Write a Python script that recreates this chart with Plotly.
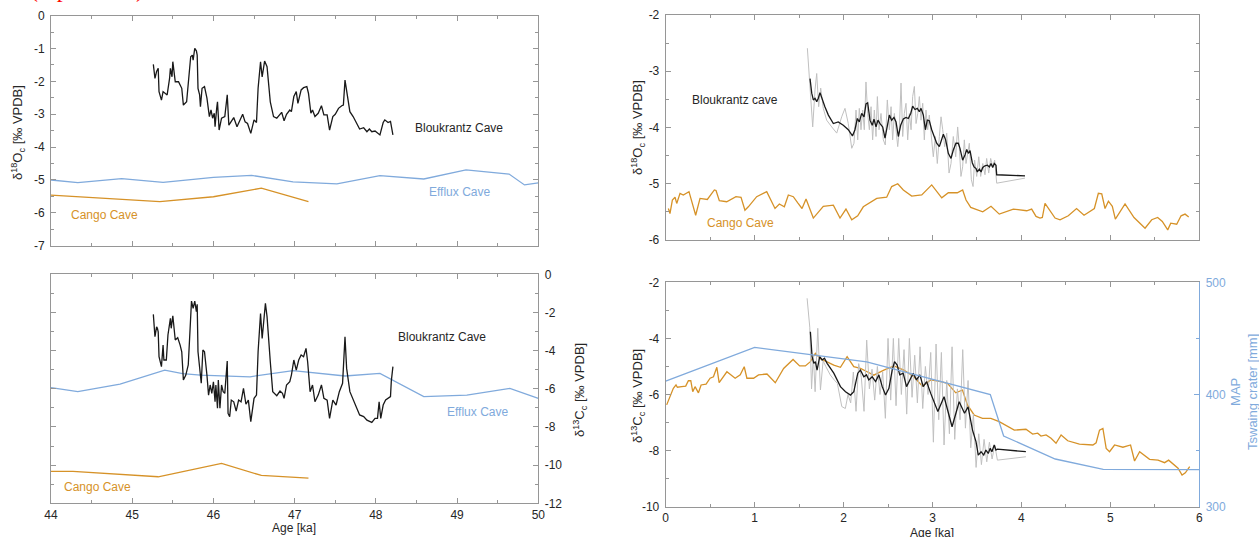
import plotly.graph_objects as go

# ---------------- data ----------------
# Top-left: Bloukrantz d18O (44-50 ka)
tl_blk_x = [45.26,45.28,45.30,45.32,45.33,45.36,45.38,45.43,45.46,45.47,45.49,45.50,45.53,45.57,45.61,45.63,45.67,45.70,45.72,45.74,45.75,45.77,45.79,45.80,45.81,45.83,45.84,45.86,45.89,45.92,45.95,45.97,45.99,46.01,46.02,46.04,46.05,46.07,46.10,46.14,46.17,46.19,46.23,46.25,46.29,46.33,46.36,46.39,46.42,46.46,46.50,46.53,46.55,46.58,46.60,46.63,46.66,46.70,46.74,46.78,46.81,46.84,46.87,46.90,46.94,46.96,46.99,47.02,47.04,47.08,47.11,47.15,47.17,47.20,47.22,47.25,47.29,47.33,47.36,47.40,47.43,47.47,47.50,47.54,47.58,47.60,47.62,47.64,47.68,47.72,47.76,47.80,47.85,47.89,47.92,47.95,47.99,48.02,48.05,48.09,48.11,48.15,48.18,48.21]
tl_blk_y = [-1.48,-1.91,-1.70,-1.60,-2.31,-2.57,-2.31,-2.41,-1.91,-1.60,-1.86,-1.40,-2.01,-2.01,-2.21,-2.72,-2.62,-1.91,-1.25,-1.20,-1.35,-0.99,-1.07,-1.20,-2.21,-2.41,-2.77,-2.21,-2.16,-2.51,-3.07,-2.87,-3.12,-2.97,-3.38,-2.82,-2.62,-3.48,-3.12,-3.07,-2.41,-3.33,-3.17,-3.10,-3.38,-3.17,-3.00,-3.23,-3.28,-3.58,-3.17,-3.25,-2.21,-1.40,-1.86,-1.38,-1.55,-2.62,-3.07,-3.12,-3.02,-2.94,-3.20,-3.00,-2.87,-2.92,-2.46,-2.31,-2.67,-2.26,-2.19,-2.16,-2.36,-2.97,-2.87,-3.07,-2.97,-2.74,-3.02,-3.02,-3.48,-3.07,-3.00,-2.82,-2.74,-2.72,-1.96,-2.31,-2.92,-3.07,-3.28,-3.45,-3.41,-3.53,-3.45,-3.53,-3.51,-3.58,-3.63,-3.25,-3.17,-3.25,-3.22,-3.63]
tl_eff_x = [44.0,44.33,44.87,45.38,46.0,46.47,46.98,47.52,48.05,48.59,49.11,49.64,49.83,50.0]
tl_eff_y = [-5.00,-5.08,-4.96,-5.07,-4.92,-4.86,-5.06,-5.12,-4.87,-4.97,-4.69,-4.82,-5.15,-5.09]
tl_cango_x = [44.0,44.44,45.34,46.0,46.59,47.17]
tl_cango_y = [-5.46,-5.53,-5.66,-5.51,-5.25,-5.66]

# Bottom-left: Bloukrantz d13C (44-50 ka)
bl_blk_x = [45.26,45.28,45.30,45.31,45.32,45.33,45.36,45.38,45.39,45.42,45.44,45.47,45.48,45.50,45.53,45.56,45.59,45.61,45.63,45.66,45.69,45.71,45.73,45.75,45.77,45.79,45.80,45.81,45.83,45.85,45.87,45.89,45.92,45.94,45.96,45.98,46.00,46.02,46.03,46.05,46.06,46.08,46.10,46.12,46.14,46.17,46.18,46.20,46.22,46.25,46.28,46.31,46.34,46.37,46.40,46.43,46.46,46.50,46.53,46.55,46.58,46.60,46.64,46.66,46.70,46.73,46.78,46.82,46.85,46.87,46.90,46.94,46.96,46.99,47.02,47.05,47.08,47.11,47.14,47.16,47.19,47.22,47.25,47.29,47.33,47.36,47.40,47.43,47.47,47.51,47.55,47.59,47.62,47.64,47.68,47.72,47.76,47.80,47.85,47.89,47.95,47.99,48.02,48.04,48.06,48.09,48.12,48.15,48.18,48.19,48.21]
bl_blk_y = [-2.10,-3.27,-2.75,-2.83,-3.01,-4.32,-4.84,-3.71,-4.49,-4.49,-3.18,-2.31,-2.83,-2.17,-3.44,-3.32,-3.71,-4.06,-5.54,-5.28,-4.75,-2.83,-1.40,-1.78,-1.40,-1.96,-1.57,-4.06,-4.75,-5.71,-3.97,-4.06,-5.28,-6.33,-5.80,-6.24,-5.63,-6.68,-5.80,-7.02,-5.54,-7.02,-5.80,-6.15,-6.24,-4.54,-7.29,-7.46,-6.59,-6.68,-7.17,-6.59,-6.68,-5.98,-6.81,-6.59,-7.72,-6.50,-6.33,-4.06,-2.05,-3.36,-1.52,-2.22,-4.58,-6.15,-6.36,-6.12,-6.24,-6.50,-5.80,-5.63,-5.28,-4.49,-5.02,-4.49,-4.23,-4.32,-3.88,-4.58,-6.15,-5.80,-6.68,-6.33,-5.80,-6.50,-6.59,-7.55,-6.59,-6.85,-6.15,-5.71,-3.27,-4.93,-6.15,-6.59,-7.02,-7.37,-7.46,-7.64,-7.76,-7.55,-7.55,-6.68,-7.55,-6.85,-6.59,-6.50,-6.41,-5.60,-4.84]
bl_eff_x = [44.0,44.33,44.85,45.40,45.62,45.84,46.45,46.98,47.62,48.05,48.59,49.12,49.65,50.0]
bl_eff_y = [-5.94,-6.15,-5.75,-5.02,-5.20,-5.28,-5.37,-5.05,-5.33,-5.19,-6.41,-6.33,-5.98,-6.50]
bl_cango_x = [44.0,44.27,45.32,46.10,46.59,47.17]
bl_cango_y = [-10.33,-10.33,-10.61,-9.91,-10.54,-10.68]

# Top-right: Bloukrantz d18O (0-6 ka), smoothed and raw
tr_blk_x = [1.623,1.642,1.660,1.679,1.698,1.716,1.735,1.754,1.790,1.829,1.885,1.940,1.997,2.053,2.100,2.128,2.155,2.177,2.204,2.230,2.252,2.271,2.297,2.323,2.342,2.365,2.387,2.410,2.440,2.466,2.492,2.515,2.541,2.567,2.590,2.616,2.642,2.672,2.702,2.728,2.755,2.777,2.803,2.829,2.852,2.871,2.897,2.920,2.942,2.964,2.991,3.017,3.047,3.077,3.104,3.122,3.148,3.178,3.208,3.234,3.264,3.290,3.309,3.339,3.365,3.385,3.403,3.422,3.448,3.467,3.490,3.504,3.527,3.546,3.565,3.590,3.617,3.640,3.658,3.677,3.695,3.714,3.722,4.040]
tr_blk_y = [-3.13,-3.39,-3.51,-3.48,-3.54,-3.48,-3.38,-3.48,-3.63,-3.78,-3.93,-3.90,-3.96,-4.04,-4.15,-4.04,-3.84,-3.90,-3.75,-3.81,-3.58,-3.56,-3.87,-3.96,-3.85,-3.99,-3.87,-3.93,-3.99,-4.19,-3.99,-3.78,-3.87,-3.82,-3.90,-4.16,-3.96,-3.85,-3.82,-3.84,-3.75,-3.62,-3.68,-3.66,-3.72,-3.66,-3.78,-4.04,-3.87,-3.88,-4.04,-4.16,-4.28,-4.34,-4.22,-4.12,-4.22,-4.46,-4.55,-4.40,-4.28,-4.28,-4.37,-4.58,-4.49,-4.39,-4.46,-4.41,-4.63,-4.70,-4.73,-4.79,-4.74,-4.79,-4.71,-4.68,-4.67,-4.70,-4.64,-4.71,-4.64,-4.67,-4.84,-4.86]
tr_raw_x = [1.593,1.615,1.634,1.653,1.679,1.698,1.720,1.743,1.772,1.810,1.867,1.923,1.979,2.016,2.053,2.092,2.117,2.140,2.159,2.177,2.196,2.215,2.233,2.252,2.271,2.290,2.309,2.327,2.346,2.365,2.380,2.399,2.421,2.447,2.469,2.492,2.515,2.534,2.552,2.571,2.590,2.609,2.627,2.646,2.665,2.683,2.702,2.721,2.740,2.759,2.777,2.796,2.815,2.834,2.852,2.871,2.890,2.908,2.927,2.946,2.964,2.983,3.009,3.032,3.054,3.077,3.096,3.115,3.137,3.160,3.186,3.208,3.234,3.261,3.283,3.301,3.320,3.339,3.358,3.377,3.396,3.414,3.437,3.456,3.474,3.497,3.520,3.542,3.565,3.590,3.609,3.632,3.654,3.677,3.699,3.722,4.040]
tr_raw_y = [-2.59,-3.16,-3.69,-3.99,-3.33,-3.04,-3.63,-3.30,-3.66,-3.87,-3.99,-4.10,-3.81,-3.66,-3.93,-4.37,-4.28,-3.69,-4.22,-3.66,-4.04,-3.69,-4.04,-3.19,-3.75,-4.04,-3.63,-4.22,-3.69,-4.16,-3.45,-4.04,-3.75,-4.22,-4.31,-3.51,-4.04,-3.63,-4.22,-3.75,-4.04,-4.34,-4.04,-3.21,-4.16,-3.75,-3.57,-4.22,-3.75,-4.04,-3.45,-3.27,-3.93,-3.75,-3.45,-3.87,-3.57,-4.22,-3.69,-4.04,-3.78,-4.16,-4.52,-4.16,-4.64,-4.16,-3.81,-4.04,-4.34,-4.10,-4.81,-4.64,-4.16,-4.52,-3.99,-4.34,-4.87,-4.70,-4.22,-4.64,-4.46,-4.28,-4.93,-5.05,-4.58,-4.87,-4.52,-4.87,-4.64,-4.84,-4.55,-4.81,-4.55,-4.70,-4.58,-4.99,-4.90]
tr_cango_x = [0.03,0.048,0.075,0.105,0.124,0.161,0.198,0.262,0.337,0.386,0.468,0.547,0.566,0.603,0.686,0.79,0.847,0.891,0.929,1.023,1.136,1.229,1.278,1.334,1.379,1.435,1.485,1.533,1.578,1.66,1.772,1.885,1.96,2.027,2.092,2.159,2.222,2.297,2.373,2.485,2.541,2.609,2.672,2.766,2.879,2.991,3.104,3.178,3.279,3.339,3.377,3.43,3.565,3.658,3.751,3.909,4.059,4.115,4.164,4.209,4.235,4.265,4.378,4.434,4.527,4.62,4.704,4.82,4.865,4.903,4.94,4.978,5.022,5.056,5.165,5.266,5.39,5.465,5.532,5.584,5.645,5.679,5.746,5.795,5.84,5.881]
tr_cango_y = [-5.44,-5.53,-5.29,-5.24,-5.35,-5.17,-5.20,-5.14,-5.56,-5.26,-5.28,-5.11,-5.12,-5.30,-5.32,-5.23,-5.24,-5.47,-5.41,-5.23,-5.14,-5.44,-5.36,-5.41,-5.20,-5.23,-5.34,-5.44,-5.27,-5.61,-5.40,-5.38,-5.61,-5.45,-5.64,-5.57,-5.41,-5.34,-5.26,-5.24,-5.05,-5.00,-5.11,-5.22,-5.20,-5.02,-5.25,-5.16,-5.16,-5.11,-5.29,-5.42,-5.50,-5.40,-5.54,-5.45,-5.48,-5.45,-5.58,-5.61,-5.60,-5.35,-5.61,-5.64,-5.57,-5.44,-5.56,-5.44,-5.17,-5.18,-5.44,-5.31,-5.40,-5.63,-5.36,-5.60,-5.79,-5.64,-5.60,-5.67,-5.82,-5.70,-5.72,-5.57,-5.54,-5.59]

# Bottom-right: Bloukrantz d13C (0-6 ka), smoothed and raw
br_blk_x = [1.627,1.646,1.665,1.683,1.702,1.732,1.759,1.785,1.815,1.890,1.965,2.022,2.078,2.115,2.160,2.190,2.228,2.258,2.284,2.322,2.360,2.397,2.435,2.472,2.510,2.547,2.573,2.603,2.632,2.670,2.708,2.745,2.783,2.820,2.858,2.896,2.934,2.980,3.020,3.060,3.130,3.220,3.300,3.360,3.400,3.450,3.489,3.515,3.546,3.576,3.600,3.627,3.649,3.668,3.694,3.713,3.730,4.050]
br_blk_y = [-3.76,-4.65,-4.89,-4.83,-5.13,-4.65,-4.77,-4.71,-4.89,-5.24,-5.72,-5.90,-6.02,-5.90,-5.24,-5.13,-5.37,-5.30,-5.48,-5.37,-5.54,-5.30,-5.72,-6.02,-5.78,-5.13,-4.83,-4.95,-5.30,-5.24,-5.72,-5.48,-5.24,-5.48,-5.30,-5.72,-5.54,-5.96,-6.31,-6.61,-6.08,-7.15,-6.26,-6.67,-6.44,-7.27,-7.68,-8.16,-8.04,-8.16,-7.98,-8.10,-7.92,-8.04,-7.80,-7.98,-7.95,-8.04]
br_raw_x = [1.59,1.62,1.64,1.66,1.68,1.71,1.74,1.77,1.80,1.85,1.90,1.93,1.98,2.02,2.05,2.08,2.11,2.14,2.17,2.20,2.23,2.26,2.29,2.32,2.35,2.38,2.41,2.44,2.47,2.50,2.53,2.56,2.59,2.62,2.65,2.68,2.71,2.74,2.77,2.80,2.83,2.86,2.89,2.92,2.95,2.98,3.01,3.04,3.07,3.10,3.13,3.16,3.19,3.22,3.25,3.28,3.31,3.34,3.37,3.40,3.43,3.46,3.49,3.52,3.55,3.58,3.61,3.64,3.67,3.70,3.73,4.05]
br_raw_y = [-2.57,-3.60,-5.80,-4.60,-5.90,-3.64,-5.84,-4.80,-5.00,-5.30,-5.50,-5.60,-6.43,-6.50,-6.00,-6.30,-5.20,-6.60,-4.90,-5.40,-6.60,-4.06,-5.80,-5.10,-6.20,-5.00,-6.00,-5.20,-6.85,-4.00,-6.20,-4.00,-6.40,-4.00,-6.00,-4.40,-6.70,-4.00,-6.10,-4.60,-6.30,-4.30,-6.50,-5.00,-6.00,-4.50,-7.70,-4.20,-6.90,-4.50,-7.80,-5.50,-7.40,-4.30,-7.60,-5.80,-6.90,-4.40,-7.20,-5.50,-7.90,-6.70,-8.60,-7.40,-8.50,-7.60,-8.40,-7.70,-8.30,-7.80,-8.34,-8.22]
br_cango_x = [0.011,0.048,0.086,0.116,0.131,0.18,0.225,0.255,0.282,0.304,0.33,0.368,0.398,0.454,0.499,0.537,0.575,0.601,0.688,0.781,0.838,0.883,0.913,0.988,1.044,1.139,1.232,1.326,1.432,1.506,1.570,1.627,1.683,1.74,1.815,1.89,1.965,2.04,2.115,2.19,2.265,2.34,2.453,2.566,2.679,2.791,2.886,2.98,3.093,3.168,3.262,3.337,3.393,3.468,3.562,3.656,3.75,3.844,3.92,4.051,4.126,4.183,4.22,4.277,4.333,4.389,4.446,4.521,4.652,4.803,4.84,4.878,4.916,4.953,4.991,5.047,5.141,5.227,5.272,5.329,5.441,5.536,5.61,5.655,5.761,5.806,5.843,5.892]
br_cango_y = [-6.37,-6.08,-5.78,-5.66,-5.74,-5.72,-5.70,-5.51,-5.51,-5.90,-5.72,-5.94,-5.66,-5.63,-5.42,-5.37,-5.03,-5.58,-5.19,-5.42,-5.30,-5.01,-5.42,-5.42,-5.30,-5.27,-5.58,-5.07,-4.75,-4.98,-4.98,-4.83,-4.53,-4.72,-4.83,-4.95,-5.03,-4.65,-5.01,-5.07,-5.19,-5.31,-5.13,-4.98,-5.13,-5.37,-5.70,-5.48,-5.54,-5.60,-5.94,-5.84,-6.37,-6.73,-6.85,-6.85,-6.97,-7.15,-7.27,-7.24,-7.41,-7.38,-7.48,-7.44,-7.56,-7.74,-7.44,-7.65,-7.77,-7.80,-7.72,-7.27,-7.21,-7.92,-8.04,-7.80,-7.88,-7.80,-8.37,-8.04,-8.31,-8.34,-8.43,-8.34,-8.63,-8.87,-8.79,-8.57]
br_map_x = [0.0,1.0,2.26,2.97,3.65,3.80,4.38,4.92,6.0]
br_map_y = [412,442,429,414,400,363,342.5,333.3,333]

# tick labels
tl_yticks = [0,-1,-2,-3,-4,-5,-6,-7]
bl_yticks = [0,-2,-4,-6,-8,-10,-12]
tr_yticks = [-2,-3,-4,-5,-6]
br_yticks = [-2,-4,-6,-8,-10]
br_map_ticks = [300,400,500]
left_xticks = [44,45,46,47,48,49,50]
right_xticks = [0,1,2,3,4,5,6]

# ---------------- styling ----------------
BLACK = "rgb(25,25,25)"
GRAY = "rgb(192,192,192)"
ORANGE = "rgb(214,146,40)"
BLUE = "rgb(128,170,220)"
FRAME = "rgb(150,150,150)"
TXT = "rgb(38,38,38)"
FONT = "Liberation Sans, Arial, Helvetica, sans-serif"
W, H = 1259, 537

def xd(a, b):
    return [a / W, b / W]

def yd(top, bot):
    return [1 - bot / H, 1 - top / H]

def lab(v):
    return [str(t) for t in v]

fig = go.Figure()

def line(x, y, color, xa, ya, width=1.3):
    fig.add_trace(go.Scatter(x=x, y=y, mode="lines", line=dict(color=color, width=width),
                             xaxis=xa, yaxis=ya, showlegend=False, hoverinfo="skip"))

# TL
line(tl_eff_x, tl_eff_y, BLUE, "x", "y")
line(tl_cango_x, tl_cango_y, ORANGE, "x", "y")
line(tl_blk_x, tl_blk_y, BLACK, "x", "y")
# TR
line(tr_cango_x, tr_cango_y, ORANGE, "x2", "y2")
line(tr_raw_x, tr_raw_y, GRAY, "x2", "y2", 1.0)
line(tr_blk_x, tr_blk_y, BLACK, "x2", "y2")
# BL
line(bl_eff_x, bl_eff_y, BLUE, "x3", "y3")
line(bl_cango_x, bl_cango_y, ORANGE, "x3", "y3")
line(bl_blk_x, bl_blk_y, BLACK, "x3", "y3")
# BR
line(br_map_x, br_map_y, BLUE, "x4", "y5")
line(br_cango_x, br_cango_y, ORANGE, "x4", "y4")
line(br_raw_x, br_raw_y, GRAY, "x4", "y4", 1.0)
line(br_blk_x, br_blk_y, BLACK, "x4", "y4")

tickfont = dict(family=FONT, size=12, color=TXT)

def xaxis(dom, anchor, rng, vals, labels):
    return dict(domain=dom, anchor=anchor, range=rng, tickmode="array", tickvals=vals,
                ticktext=lab(vals), showticklabels=labels, ticks="inside", ticklen=5,
                tickcolor=FRAME, tickwidth=1, showline=True, linecolor=FRAME, linewidth=1,
                mirror="ticks", showgrid=False, zeroline=False, tickfont=tickfont, automargin=False,
                minor=dict(ticks="inside", dtick=0.5, tick0=0, ticklen=3, tickcolor=FRAME, showgrid=False))

def yaxis(dom, anchor, rng, vals, mdt, side="left", mirror="ticks", color=FRAME, fcolor=TXT):
    return dict(domain=dom, anchor=anchor, range=rng, tickmode="array", tickvals=vals,
                ticktext=lab(vals), side=side, ticks="inside", ticklen=5, tickcolor=color,
                tickwidth=1, showline=True, linecolor=color, linewidth=1, mirror=mirror,
                showgrid=False, zeroline=False, ticklabelstandoff=3, automargin=False,
                tickfont=dict(family=FONT, size=12, color=fcolor),
                minor=dict(ticks="inside", dtick=mdt, tick0=0, ticklen=3, tickcolor=color, showgrid=False))

LX = xd(51, 538.3)
RX = xd(665.7, 1199.3)

fig.update_layout(
    width=W, height=H, margin=dict(l=0, r=0, t=0, b=0, autoexpand=False),
    paper_bgcolor="white", plot_bgcolor="white", showlegend=False,
    xaxis=xaxis(LX, "y", [44, 50], left_xticks, False),
    yaxis=yaxis(yd(15.7, 245.7), "x", [-7, 0], tl_yticks, 0.5),
    xaxis2=xaxis(RX, "y2", [0, 6], right_xticks, False),
    yaxis2=yaxis(yd(15, 240), "x2", [-6, -2], tr_yticks, 0.5),
    xaxis3=xaxis(LX, "y3", [44, 50], left_xticks, True),
    yaxis3=yaxis(yd(274.3, 503.3), "x3", [-12, 0], bl_yticks, 1, side="right"),
    xaxis4=xaxis(RX, "y4", [0, 6], right_xticks, True),
    yaxis4=yaxis(yd(282.3, 506.7), "x4", [-10, -2], br_yticks, 1, mirror=False),
    yaxis5=dict(yaxis(yd(282.3, 506.7), "x4", [300, 500], br_map_ticks, 50, side="right",
                      mirror=False, color=BLUE, fcolor=BLUE), overlaying="y4"),
)

def ann(x, y, text, color=TXT, size=12, angle=0, family=FONT, xanchor="center", yanchor="middle"):
    fig.add_annotation(x=x / W, y=1 - y / H, xref="paper", yref="paper", text=text,
                       showarrow=False, textangle=angle, xanchor=xanchor, yanchor=yanchor,
                       font=dict(family=family, size=size, color=color))

ytitle13 = "δ<sup>13</sup>C<sub>c</sub> [‰ VPDB]"
ytitle18 = "δ<sup>18</sup>O<sub>c</sub> [‰ VPDB]"

# axis titles
ann(18, 133, ytitle18, size=13, angle=-90)
ann(580, 390, ytitle13, size=13, angle=-90)
ann(638, 128, ytitle18, size=13, angle=-90)
ann(638, 396, ytitle13, size=13, angle=-90)
ann(1244, 392, "MAP<br>Tswaing crater [mm]", color=BLUE, size=13, angle=-90)
ann(294, 528, "Age [ka]")
ann(932, 533, "Age [ka]")

# series labels
ann(459, 128, "Bloukrantz Cave")
ann(459, 192, "Efflux Cave", color=BLUE)
ann(104, 215, "Cango Cave", color=ORANGE)
ann(442, 337, "Bloukrantz Cave")
ann(477, 412, "Efflux Cave", color=BLUE)
ann(97, 487, "Cango Cave", color=ORANGE)
ann(735, 100, "Bloukrantz cave")
ann(740, 223, "Cango Cave", color=ORANGE)

# clipped red caption at top edge
ann(28, 4, "(top values)", color="red", size=24, family="Liberation Serif, Times New Roman, serif",
    xanchor="left", yanchor="bottom")

fig.write_html("out.html", config={"displayModeBar": False},
               post_script="document.body.style.margin='0';document.body.style.padding='0';")
